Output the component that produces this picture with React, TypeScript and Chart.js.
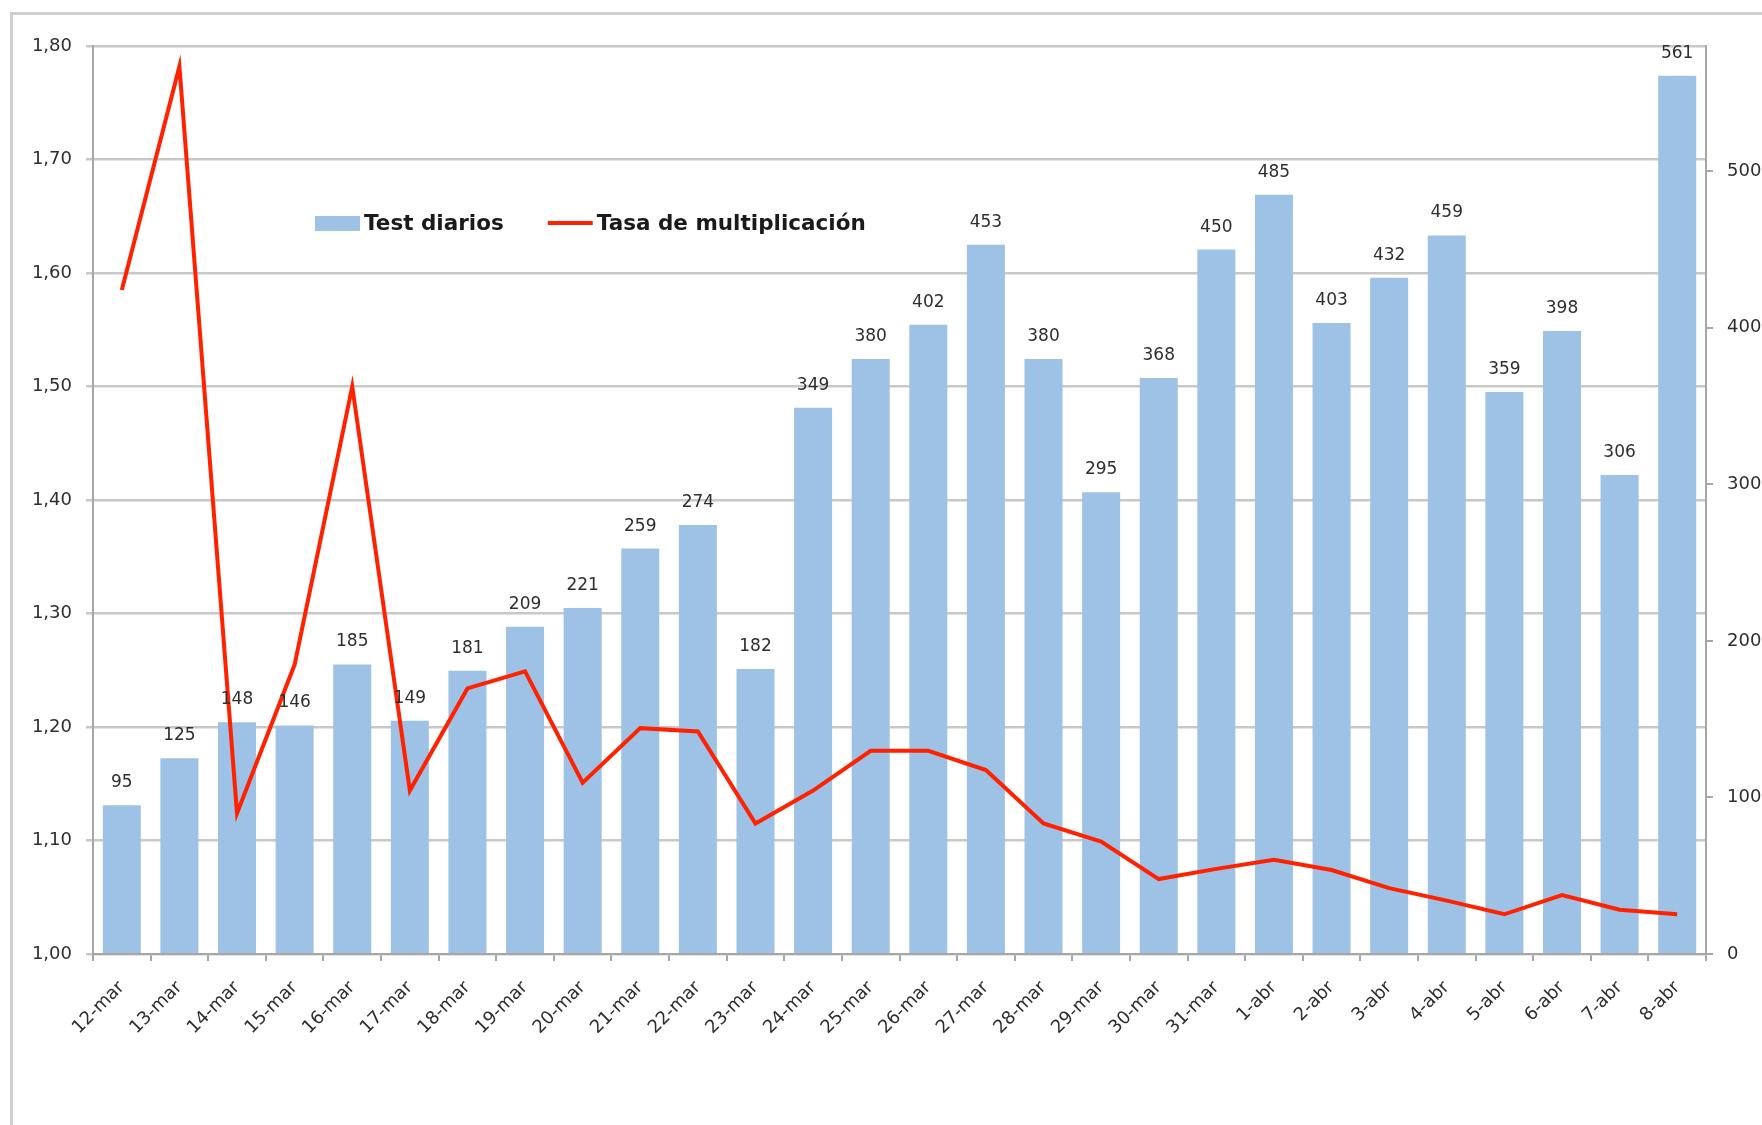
import React, { useEffect, useRef } from "react";
import { Chart, registerables } from "chart.js";

Chart.register(...registerables);

const categories = [
  "12-mar", "13-mar", "14-mar", "15-mar", "16-mar", "17-mar", "18-mar", "19-mar", "20-mar", "21-mar",
  "22-mar", "23-mar", "24-mar", "25-mar", "26-mar", "27-mar", "28-mar", "29-mar", "30-mar", "31-mar",
  "1-abr", "2-abr", "3-abr", "4-abr", "5-abr", "6-abr", "7-abr", "8-abr",
];

const testDiarios = [
  95, 125, 148, 146, 185, 149, 181, 209, 221, 259,
  274, 182, 349, 380, 402, 453, 380, 295, 368, 450,
  485, 403, 432, 459, 359, 398, 306, 561,
];

const tasaMultiplicacion = [
  1.585, 1.782, 1.124, 1.255, 1.5, 1.144, 1.234, 1.249, 1.151, 1.199,
  1.196, 1.115, 1.144, 1.179, 1.179, 1.162, 1.115, 1.099, 1.066, 1.075,
  1.083, 1.074, 1.058, 1.047, 1.035, 1.052, 1.039, 1.035,
];

const leftMin = 1.0;
const leftMax = 1.8;
const leftStep = 0.1;
const rightMin = 0;
const rightMax = 580;
const rightStep = 100;

const seriesNames = ["Test diarios", "Tasa de multiplicación"];

const BAR_COLOR = "#9dc2e6";
const LINE_COLOR = "#ff2200";
const TEXT_COLOR = "#2e2e2e";
const GRID_COLOR = "#c8c8c8";
const AXIS_COLOR = "#a6a6a6";
const FONT = "'DejaVu Sans', Verdana, sans-serif";

const W = 1762;
const H = 1125;

const labelsPlugin = {
  id: "barValueLabels",
  afterDatasetsDraw(chart: any) {
    const ctx = chart.ctx;
    const meta = chart.getDatasetMeta(0);
    const data = chart.data.datasets[0].data;
    ctx.save();
    ctx.fillStyle = TEXT_COLOR;
    ctx.font = `17px ${FONT}`;
    ctx.textAlign = "center";
    ctx.textBaseline = "alphabetic";
    meta.data.forEach((bar: any, i: number) => {
      ctx.fillText(String(data[i]), bar.x, bar.y - 18);
    });
    ctx.restore();
  },
};

const legendPlugin = {
  id: "innerLegend",
  afterDraw(chart: any) {
    const ctx = chart.ctx;
    const area = chart.chartArea;
    const ds = chart.data.datasets;
    const cy = area.top + 177;
    let x = area.left + 222;
    ctx.save();
    ctx.font = `bold 21.5px ${FONT}`;
    ctx.textBaseline = "middle";
    ctx.textAlign = "left";
    // bar entry
    ctx.fillStyle = ds[0].backgroundColor;
    ctx.fillRect(x, cy - 7, 45, 15);
    x += 49;
    ctx.fillStyle = "#1a1a1a";
    ctx.fillText(ds[0].label, x, cy + 1);
    x += ctx.measureText(ds[0].label).width + 44;
    // line entry
    ctx.strokeStyle = ds[1].borderColor;
    ctx.lineWidth = 4;
    ctx.beginPath();
    ctx.moveTo(x, cy);
    ctx.lineTo(x + 45, cy);
    ctx.stroke();
    x += 49;
    ctx.fillStyle = "#1a1a1a";
    ctx.fillText(ds[1].label, x, cy + 1);
    ctx.restore();
  },
};

export default function App() {
  const canvasRef = useRef<HTMLCanvasElement | null>(null);

  useEffect(() => {
    const canvas = canvasRef.current;
    if (!canvas) return;
    const chart = new Chart(canvas, {
      type: "bar",
      data: {
        labels: categories,
        datasets: [
          {
            type: "bar",
            label: seriesNames[0],
            data: testDiarios,
            backgroundColor: BAR_COLOR,
            yAxisID: "y1",
            categoryPercentage: 1,
            barPercentage: 0.66,
            order: 2,
          } as any,
          {
            type: "line",
            label: seriesNames[1],
            data: tasaMultiplicacion,
            borderColor: LINE_COLOR,
            backgroundColor: LINE_COLOR,
            borderWidth: 4,
            pointRadius: 0,
            tension: 0,
            yAxisID: "y",
            order: 1,
          } as any,
        ],
      },
      options: {
        responsive: false,
        animation: false,
        devicePixelRatio: 1,
        layout: { padding: { top: 46, left: 0, right: 0, bottom: 0 } },
        plugins: {
          legend: { display: false },
          tooltip: { enabled: false },
        },
        scales: {
          x: {
            offset: true,
            grid: {
              offset: true,
              drawOnChartArea: false,
              drawTicks: true,
              tickLength: 7,
              color: AXIS_COLOR,
              lineWidth: 2,
            },
            border: { display: true, color: AXIS_COLOR, width: 2 },
            ticks: {
              autoSkip: false,
              maxRotation: 45,
              minRotation: 45,
              padding: 16,
              color: TEXT_COLOR,
              font: { family: FONT, size: 18 },
            },
            afterFit: (s: any) => {
              s.height = H - 954;
            },
          },
          y: {
            position: "left",
            min: leftMin,
            max: leftMax,
            ticks: {
              stepSize: leftStep,
              color: TEXT_COLOR,
              padding: 14,
              font: { family: FONT, size: 18 },
              callback: (v: any) => Number(v).toFixed(2).replace(".", ","),
            },
            grid: {
              color: GRID_COLOR,
              lineWidth: 2.5,
              tickLength: 7,
              drawTicks: true,
            },
            border: { display: true, color: AXIS_COLOR, width: 2 },
            afterFit: (s: any) => {
              s.width = 93;
            },
          },
          y1: {
            position: "right",
            min: rightMin,
            max: rightMax,
            ticks: {
              stepSize: rightStep,
              color: TEXT_COLOR,
              padding: 14,
              font: { family: FONT, size: 18 },
            },
            afterBuildTicks: (s: any) => {
              s.ticks = s.ticks.filter((t: any) => t.value % rightStep === 0);
            },
            grid: {
              drawOnChartArea: false,
              color: AXIS_COLOR,
              tickLength: 7,
              lineWidth: 2,
            },
            border: { display: true, color: AXIS_COLOR, width: 2 },
            afterFit: (s: any) => {
              s.width = W - 1706;
            },
          },
        },
      },
      plugins: [labelsPlugin, legendPlugin],
    });
    return () => chart.destroy();
  }, []);

  return (
    <div style={{ position: "absolute", left: 0, top: 0, width: W, height: H, background: "#ffffff", overflow: "hidden" }}>
      <div
        style={{
          position: "absolute",
          left: 10,
          top: 12,
          width: W,
          height: H,
          borderLeft: "3px solid #cfcfcf",
          borderTop: "3px solid #cfcfcf",
        }}
      />
      <canvas ref={canvasRef} width={W} height={H} style={{ position: "absolute", left: 0, top: 0, width: W, height: H }} />
    </div>
  );
}
